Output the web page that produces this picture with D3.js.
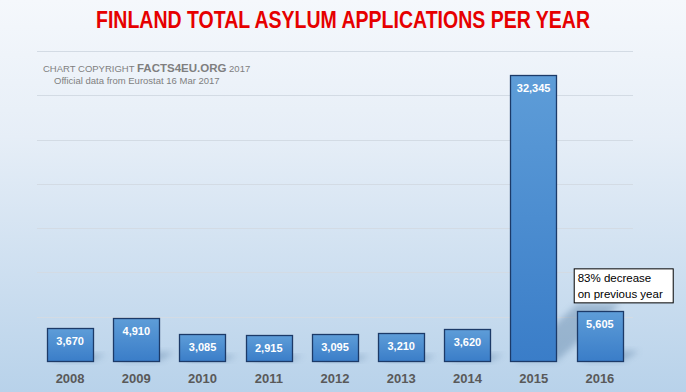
<!DOCTYPE html>
<html>
<head>
<meta charset="utf-8">
<script src="https://cdn.jsdelivr.net/npm/d3@7"></script>
<style>
  body { margin: 0; padding: 0; overflow: hidden; }
  svg { display: block; }
</style>
</head>
<body>
<div id="chart"></div>
<script>
// Data
const years = ["2008", "2009", "2010", "2011", "2012", "2013", "2014", "2015", "2016"];
const applications = [3670, 4910, 3085, 2915, 3095, 3210, 3620, 32345, 5605];
const gridTicks = [0, 5000, 10000, 15000, 20000, 25000, 30000, 35000];

const W = 686, H = 392;
const margin = { top: 51, right: 53, bottom: 31, left: 37 };
const width = W - margin.left - margin.right;
const height = H - margin.top - margin.bottom;

const svg = d3.select("#chart")
    .append("svg")
    .attr("width", W)
    .attr("height", H);

const defs = svg.append("defs");

// Background gradient
const bg = defs.append("linearGradient")
    .attr("id", "bg").attr("x1", 0).attr("y1", 0).attr("x2", 0).attr("y2", 1);
bg.append("stop").attr("offset", "0%").attr("stop-color", "#f5f8fc");
bg.append("stop").attr("offset", "35%").attr("stop-color", "#e6eef7");
bg.append("stop").attr("offset", "100%").attr("stop-color", "#b8d2ea");

// Bar gradient
const barGrad = defs.append("linearGradient")
    .attr("id", "barGrad").attr("x1", 0).attr("y1", 0).attr("x2", 0).attr("y2", 1);
barGrad.append("stop").attr("offset", "0%").attr("stop-color", "#5e9dd8");
barGrad.append("stop").attr("offset", "100%").attr("stop-color", "#3a7dc8");

// Shadow blur
defs.append("filter").attr("id", "blur")
    .attr("x", "-50%").attr("y", "-50%").attr("width", "200%").attr("height", "200%")
    .append("feGaussianBlur").attr("stdDeviation", 3);

svg.append("rect")
    .attr("width", W).attr("height", H)
    .attr("fill", "url(#bg)");

const g = svg.append("g")
    .attr("transform", `translate(${margin.left},${margin.top})`);

// Scales
const x = d3.scaleBand()
    .domain(years)
    .range([0, width])
    .paddingInner(0.3)
    .paddingOuter(0.15);

const y = d3.scaleLinear()
    .domain([0, 35000])
    .range([height, 0]);

// Gridlines
g.selectAll(".grid")
    .data(gridTicks.slice(1))
    .enter()
    .append("line")
    .attr("x1", 0)
    .attr("x2", width)
    .attr("y1", d => Math.round(y(d)) + 0.5)
    .attr("y2", d => Math.round(y(d)) + 0.5)
    .attr("stroke", "#d3dbe4")
    .attr("stroke-width", 1);

// Copyright text
const copy = g.append("text")
    .attr("x", 6)
    .attr("y", 21)
    .style("font-family", "'Liberation Sans Narrow', 'Arial Narrow', 'Liberation Sans', sans-serif")
    .style("fill", "#7f7f7f")
    .style("font-size", "9.5px");
copy.append("tspan").text("CHART COPYRIGHT ");
copy.append("tspan").style("font-weight", "bold").style("font-size", "11.5px").text("FACTS4EU.ORG");
copy.append("tspan").text(" 2017");

g.append("text")
    .attr("x", 17)
    .attr("y", 33)
    .style("font-family", "'Liberation Sans Narrow', 'Arial Narrow', 'Liberation Sans', sans-serif")
    .style("fill", "#7f7f7f")
    .style("font-size", "9.5px")
    .text("Official data from Eurostat 16 Mar 2017");

// Shadows
g.selectAll(".shadow")
    .data(years)
    .enter()
    .append("polygon")
    .attr("points", (d, i) => {
        const x0 = x(d) + 4, x1 = x(d) + x.bandwidth();
        const h = height - y(applications[i]);
        const dx = h * 0.2 + 6, dy = h * 0.2;
        return [[x0, height], [x1, height], [x1 + dx, height - dy], [x0 + dx, height - dy]]
            .map(p => p.join(",")).join(" ");
    })
    .attr("fill", "#4a6f96")
    .attr("opacity", 0.35)
    .attr("filter", "url(#blur)");

// Bars
g.selectAll(".bar")
    .data(years)
    .enter()
    .append("rect")
    .attr("x", d => Math.round(x(d)) + 0.5)
    .attr("y", (d, i) => Math.round(y(applications[i])) + 0.5)
    .attr("width", Math.round(x.bandwidth()))
    .attr("height", (d, i) => Math.round(height - y(applications[i])))
    .attr("fill", "url(#barGrad)")
    .attr("stroke", "#1c3a68")
    .attr("stroke-width", 1.3);

// Value labels
g.selectAll(".val")
    .data(years)
    .enter()
    .append("text")
    .attr("x", d => x(d) + x.bandwidth() / 2)
    .attr("y", (d, i) => y(applications[i]) + 17)
    .attr("text-anchor", "middle")
    .style("font-family", "'Liberation Sans Narrow', 'Arial Narrow', 'Liberation Sans', sans-serif")
    .style("font-weight", "bold")
    .style("font-size", "11px")
    .style("fill", "#ffffff")
    .text((d, i) => d3.format(",")(applications[i]));

// X axis labels
g.selectAll(".year")
    .data(years)
    .enter()
    .append("text")
    .attr("x", d => x(d) + x.bandwidth() / 2)
    .attr("y", height + 22)
    .attr("text-anchor", "middle")
    .style("font-family", "'Liberation Sans', Arial, sans-serif")
    .style("font-weight", "bold")
    .style("font-size", "13px")
    .style("fill", "#595959")
    .text(d => d);

// Annotation box
const note = g.append("g")
    .attr("transform", `translate(${x("2016") - 3},${y(5605) - 43})`);
note.append("rect")
    .attr("x", 0.5).attr("y", 0.5)
    .attr("width", 99).attr("height", 34)
    .attr("fill", "#ffffff")
    .attr("stroke", "#000000");
note.append("text")
    .attr("x", 4).attr("y", 14)
    .style("font-family", "'Liberation Sans', Arial, sans-serif")
    .style("font-size", "11.5px")
    .style("fill", "#000")
    .text("83% decrease");
note.append("text")
    .attr("x", 4).attr("y", 30)
    .style("font-family", "'Liberation Sans', Arial, sans-serif")
    .style("font-size", "11.5px")
    .style("fill", "#000")
    .text("on previous year");

// Title
svg.append("text")
    .attr("x", W / 2 - 0)
    .attr("y", 28)
    .attr("text-anchor", "middle")
    .attr("textLength", 494)
    .attr("lengthAdjust", "spacingAndGlyphs")
    .style("font-family", "'Liberation Sans Narrow', 'Arial Narrow', 'Liberation Sans', sans-serif")
    .style("font-weight", "bold")
    .style("font-size", "23px")
    .style("fill", "#e60000")
    .text("FINLAND TOTAL ASYLUM APPLICATIONS PER YEAR");
</script>
</body>
</html>
